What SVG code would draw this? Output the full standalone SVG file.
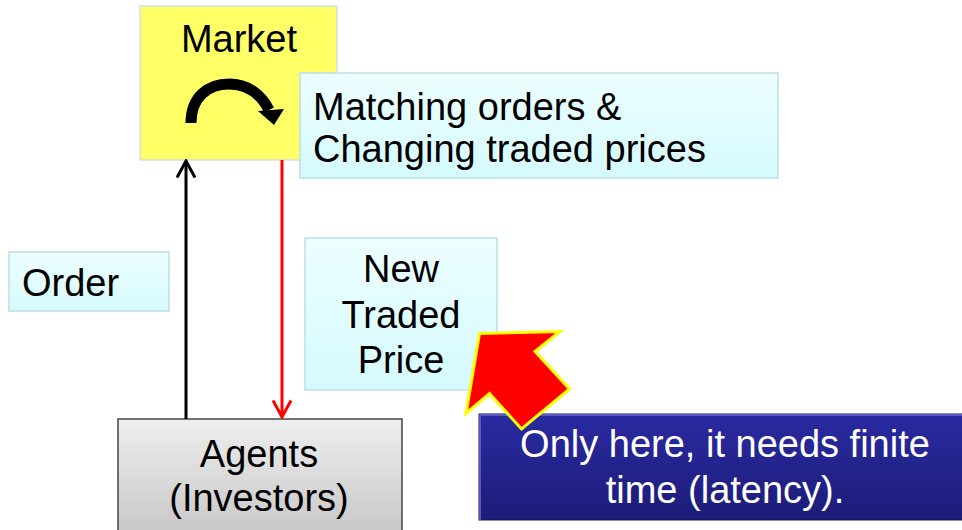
<svg xmlns="http://www.w3.org/2000/svg" width="962" height="530" viewBox="0 0 962 530">
<defs>
<linearGradient id="cyan" x1="0" y1="0" x2="0" y2="1"><stop offset="0" stop-color="#EDFEFF"/><stop offset="1" stop-color="#D5FAFE"/></linearGradient>
<linearGradient id="gray" x1="0" y1="0" x2="0" y2="1"><stop offset="0" stop-color="#EEEEEE"/><stop offset="1" stop-color="#C6C6C6"/></linearGradient>
<linearGradient id="blue" x1="0" y1="0" x2="0" y2="1"><stop offset="0" stop-color="#2A2AA2"/><stop offset="1" stop-color="#1C1C78"/></linearGradient>
<marker id="open" viewBox="0 0 20 20" refX="18" refY="10" markerWidth="20" markerHeight="20" markerUnits="userSpaceOnUse" orient="auto">
<path d="M1.5 1 L18 10 L1.5 19" fill="none" stroke="context-stroke" stroke-width="3"/>
</marker>
<style>
text{font-family:"Liberation Sans",Arial,sans-serif;font-size:38px;fill:#000}
.c{text-anchor:middle}
.w{fill:#fff}
.note{fill:url(#cyan);stroke:#BCE0E4;stroke-width:1.5}
</style>
</defs>
<g id="market">
<rect x="140" y="6" width="197" height="154" fill="#FFFF66" stroke="#CFE3E6" stroke-width="1.5"/>
<text class="c" x="239" y="52">Market</text>
<path d="M191 123 C191 97 208 84 229 84 C249 84 262 96 269 110" fill="none" stroke="#000" stroke-width="11"/>
<polygon points="258,111 284,109 274,125" fill="#000"/>
</g>
<g id="matching">
<rect class="note" x="300" y="73" width="478" height="105"/>
<text x="313" y="120">Matching orders &amp;</text>
<text x="313" y="162">Changing traded prices</text>
</g>
<g id="order">
<rect class="note" x="9" y="252" width="160" height="59"/>
<text x="22" y="296">Order</text>
</g>
<g id="newprice">
<rect class="note" x="305" y="238" width="192" height="152"/>
<text class="c" x="401" y="282">New</text>
<text class="c" x="401" y="328">Traded</text>
<text class="c" x="401" y="373">Price</text>
</g>
<g id="agents">
<rect x="118" y="419" width="284" height="120" fill="url(#gray)" stroke="#454545" stroke-width="1.5"/>
<text class="c" x="259" y="467">Agents</text>
<text class="c" x="259" y="511">(Investors)</text>
</g>
<g id="connectors">
<line x1="186" y1="419" x2="186" y2="161" stroke="#000" stroke-width="3" marker-end="url(#open)"/>
<line x1="282" y1="160" x2="282" y2="417" stroke="#FF0000" stroke-width="3" marker-end="url(#open)"/>
</g>
<g id="callout">
<rect x="479" y="414" width="490" height="106" fill="url(#blue)" stroke="#15155E" stroke-width="1"/>
<path d="M480 520 L480 415 L962 415" fill="none" stroke="#6A6AD0" stroke-width="1.5"/>
<text class="c w" x="725" y="457">Only here, it needs finite</text>
<text class="c w" x="725" y="503">time (latency).</text>
</g>
<g id="bigarrow">
<polygon points="479.5,333.5 560,331.5 535,351.5 569.5,389 521.5,429 489.5,393.5 466,413.5" fill="#FF0000" stroke="#FFFF00" stroke-width="3" stroke-linejoin="miter"/>
</g>
</svg>
